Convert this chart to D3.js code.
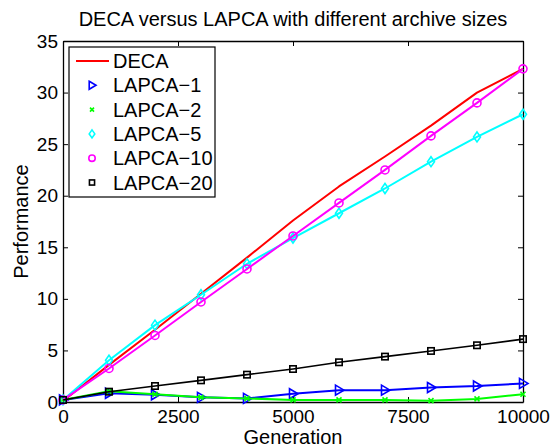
<!DOCTYPE html>
<html>
<head>
<meta charset="utf-8">
<script src="https://cdn.jsdelivr.net/npm/d3@7"></script>
<style>
  body { margin: 0; background: #fff; }
  text { font-family: "Liberation Sans", Arial, sans-serif; fill: #000; }
</style>
</head>
<body>
<svg width="559" height="448"></svg>
<script>
// generations where every series was sampled
let generations = [0, 1000, 2000, 3000, 4000, 5000, 6000, 7000, 8000, 9000, 10000];

let deca    = [0.1, 3.6, 7.0, 10.5, 14.0, 17.6, 20.9, 23.8, 26.8, 30.0, 32.3];
let lapca1  = [0.2, 0.85, 0.7, 0.45, 0.35, 0.8, 1.15, 1.15, 1.4, 1.55, 1.8];
let lapca2  = [0.2, 1.05, 0.75, 0.45, 0.35, 0.2, 0.2, 0.2, 0.13, 0.3, 0.75];
let lapca5  = [0.2, 4.05, 7.45, 10.4, 13.4, 15.9, 18.3, 20.7, 23.3, 25.7, 27.9];
let lapca10 = [0.2, 3.25, 6.45, 9.7, 12.9, 16.1, 19.3, 22.5, 25.8, 29.0, 32.3];
let lapca20 = [0.2, 1.0, 1.55, 2.1, 2.65, 3.2, 3.85, 4.4, 4.95, 5.5, 6.1];

let xTicks = [0, 2500, 5000, 7500, 10000];
let yTicks = [0, 5, 10, 15, 20, 25, 30, 35];

let series = [
    {name: 'DECA',     values: deca,    color: '#ff0000', marker: null},
    {name: 'LAPCA\u22121',  values: lapca1,  color: '#0000ff', marker: 'tri'},
    {name: 'LAPCA\u22122',  values: lapca2,  color: '#00ff00', marker: 'x'},
    {name: 'LAPCA\u22125',  values: lapca5,  color: '#00ffff', marker: 'diamond'},
    {name: 'LAPCA\u221210', values: lapca10, color: '#ff00ff', marker: 'circle'},
    {name: 'LAPCA\u221220', values: lapca20, color: '#000000', marker: 'square'}
];

let plotLeft = 63, plotTop = 41, plotRight = 523, plotBottom = 402;

let x = d3.scaleLinear().domain([0, 10000]).range([plotLeft, plotRight]);
let y = d3.scaleLinear().domain([0, 35]).range([plotBottom, plotTop]);

let svg = d3.select('svg');

// axes with inward ticks, MATLAB box style
let axisG = svg.append('g').attr('class', 'axes');

axisG.append('g')
    .attr('transform', `translate(0,${plotBottom})`)
    .call(d3.axisBottom(x).tickValues(xTicks).tickFormat(d3.format('d'))
        .tickSizeInner(-5).tickSizeOuter(0).tickPadding(8));
axisG.append('g')
    .attr('transform', `translate(0,${plotTop})`)
    .call(d3.axisTop(x).tickValues(xTicks).tickSizeInner(-5).tickSizeOuter(0).tickFormat(''));
axisG.append('g')
    .attr('transform', `translate(${plotLeft},0)`)
    .call(d3.axisLeft(y).tickValues(yTicks).tickSizeInner(-5).tickSizeOuter(0).tickPadding(5));
axisG.append('g')
    .attr('transform', `translate(${plotRight},0)`)
    .call(d3.axisRight(y).tickValues(yTicks).tickSizeInner(-5).tickSizeOuter(0).tickFormat(''));

axisG.selectAll('.domain').attr('stroke', '#000').attr('stroke-width', 1.3);
axisG.selectAll('.tick line').attr('stroke', '#000');
axisG.selectAll('.tick text').style('font-size', '19px');

// markers
function drawMarker(g, type, color, k = 1) {
    if (type === 'tri') {
        g.append('path').attr('d', `M${-3.5 * k},${-5 * k} L${5 * k},0 L${-3.5 * k},${5 * k} Z`)
            .attr('fill', 'none').attr('stroke', color).attr('stroke-width', 1.6);
    } else if (type === 'x') {
        g.append('path').attr('d', `M${-2.5 * k},${-2.5 * k} L${2.5 * k},${2.5 * k} M${-2.5 * k},${2.5 * k} L${2.5 * k},${-2.5 * k}`)
            .attr('stroke', color).attr('stroke-width', 1.6);
    } else if (type === 'diamond') {
        g.append('path').attr('d', `M0,${-5 * k} L${3.5 * k},0 L0,${5 * k} L${-3.5 * k},0 Z`)
            .attr('fill', 'none').attr('stroke', color).attr('stroke-width', 1.6);
    } else if (type === 'circle') {
        g.append('circle').attr('r', 4 * k)
            .attr('fill', 'none').attr('stroke', color).attr('stroke-width', 1.6);
    } else if (type === 'square') {
        g.append('rect').attr('x', -3.2 * k).attr('y', -3.2 * k).attr('width', 6.4 * k).attr('height', 6.4 * k)
            .attr('fill', 'none').attr('stroke', color).attr('stroke-width', 1.6);
    }
}

let line = d3.line()
    .x((d, i) => x(generations[i]))
    .y(d => y(d));

let plot = svg.append('g').attr('class', 'plot');

series.forEach(s => {
    plot.append('path')
        .attr('d', line(s.values))
        .attr('fill', 'none')
        .attr('stroke', s.color)
        .attr('stroke-width', s.marker === 'square' ? 1.6 : 2)
        .attr('stroke-linejoin', 'round');
    if (s.marker) {
        plot.selectAll(null)
            .data(s.values)
            .enter().append('g')
            .attr('transform', (d, i) => `translate(${x(generations[i])},${y(d)})`)
            .each(function () { drawMarker(d3.select(this), s.marker, s.color); });
    }
});

// legend
let legend = svg.append('g').attr('class', 'legend');
legend.append('rect')
    .attr('x', 69).attr('y', 47).attr('width', 146).attr('height', 150)
    .attr('fill', '#fff').attr('stroke', '#000').attr('stroke-width', 1.2);

series.forEach((s, i) => {
    let ly = 61 + i * 24.3;
    let row = legend.append('g').attr('transform', `translate(0,${ly})`);
    if (s.marker) {
        drawMarker(row.append('g').attr('transform', 'translate(92,0)'), s.marker, s.color, 0.8);
    } else {
        row.append('line').attr('x1', 76).attr('x2', 109).attr('y1', 0).attr('y2', 0)
            .attr('stroke', s.color).attr('stroke-width', 2);
    }
    row.append('text')
        .attr('x', 113).attr('y', 0).attr('dy', '0.35em')
        .style('font-size', '20px')
        .text(s.name);
});

// titles
svg.append('text')
    .attr('x', (plotLeft + plotRight) / 2).attr('y', 26)
    .attr('text-anchor', 'middle')
    .style('font-size', '20px')
    .text('DECA versus LAPCA with different archive sizes');

svg.append('text')
    .attr('x', (plotLeft + plotRight) / 2).attr('y', 444)
    .attr('text-anchor', 'middle')
    .style('font-size', '20px')
    .text('Generation');

svg.append('text')
    .attr('transform', `translate(28,${(plotTop + plotBottom) / 2}) rotate(-90)`)
    .attr('text-anchor', 'middle')
    .style('font-size', '20px')
    .text('Performance');
</script>
</body>
</html>
